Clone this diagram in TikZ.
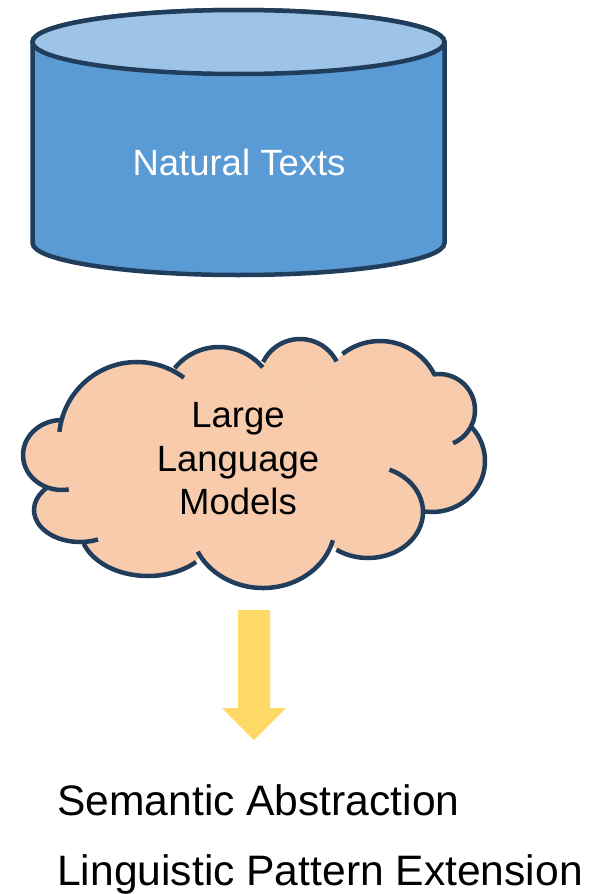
\documentclass[tikz,border=0pt]{standalone}
\usepackage{fontspec}
\setmainfont{Liberation Sans}
\usetikzlibrary{calc}
\definecolor{dbline}{RGB}{33,61,92}
\definecolor{dbtop}{RGB}{157,195,230}
\definecolor{dbbody}{RGB}{91,155,213}
\definecolor{cloudbody}{RGB}{248,203,173}
\definecolor{flowfill}{RGB}{255,217,102}
\tikzstyle{dbshape} = [draw=dbline, line width=4.5pt]
\tikzstyle{puff} = [draw=dbline, line width=4.5pt]
\tikzstyle{textlbl} = [inner sep=0pt, font=\fontsize{36.5}{43.5}\selectfont]
\tikzstyle{outcome} = [inner sep=0pt, anchor=base west, font=\fontsize{42.6}{50}\selectfont]
\newcommand{\puffarc}[6]{($(#1,#2)+(#5:#3 and #4)$) arc[start angle=#5, end angle=#6, x radius=#3, y radius=#4]}

\begin{document}
\begin{tikzpicture}[x=1pt, y=-1pt]
\useasboundingbox (0,0) rectangle (589,894);

% database
\filldraw[dbshape, fill=dbbody] (32.5,42) -- (32.5,243) arc[start angle=180, end angle=0, x radius=206, y radius=32] -- (444.5,42) arc[start angle=0, end angle=-180, x radius=206, y radius=32] -- cycle;
\filldraw[dbshape, fill=dbtop] (238.5,42) ellipse [x radius=206, y radius=32];
\node (texts) [textlbl, text=white, anchor=base] at (239,175) {Natural Texts};

% cloud
\fill[cloudbody] \puffarc{137}{440}{78}{78}{186}{307} -- (250,462) -- cycle;
\fill[cloudbody] \puffarc{219}{404}{57}{57}{219}{320} -- (250,462) -- cycle;
\fill[cloudbody] \puffarc{300}{380}{41}{41}{206}{333} -- (250,462) -- cycle;
\fill[cloudbody] \puffarc{380}{402}{61}{61}{232}{334} -- (250,462) -- cycle;
\fill[cloudbody] \puffarc{439}{410}{36}{36}{261}{427} -- (250,462) -- cycle;
\fill[cloudbody] \puffarc{432}{461}{53}{51}{318}{460} -- (250,462) -- cycle;
\fill[cloudbody] \puffarc{368}{512}{55}{46}{293}{485} -- (250,462) -- cycle;
\fill[cloudbody] \puffarc{263}{525}{72}{63}{14}{155} -- (250,462) -- cycle;
\fill[cloudbody] \puffarc{148}{528}{68}{48}{45}{161} -- (250,462) -- cycle;
\fill[cloudbody] \puffarc{80}{510}{46}{32}{67}{225} -- (250,462) -- cycle;
\fill[cloudbody] \puffarc{62}{455}{39}{35}{80}{270} -- (250,462) -- cycle;
\draw[puff] \puffarc{137}{440}{78}{78}{186}{307};
\draw[puff] \puffarc{219}{404}{57}{57}{219}{320};
\draw[puff] \puffarc{300}{380}{41}{41}{206}{333};
\draw[puff] \puffarc{380}{402}{61}{61}{232}{334};
\draw[puff] \puffarc{439}{410}{36}{36}{261}{427};
\draw[puff] \puffarc{432}{461}{53}{51}{318}{460};
\draw[puff] \puffarc{368}{512}{55}{46}{293}{485};
\draw[puff] \puffarc{263}{525}{72}{63}{14}{155};
\draw[puff] \puffarc{148}{528}{68}{48}{45}{161};
\draw[puff] \puffarc{80}{510}{46}{32}{67}{225};
\draw[puff] \puffarc{62}{455}{39}{35}{80}{270};
\node (llm) [textlbl, align=center] at (238,459) {Large\\Language\\Models};

% block arrow
\fill[flowfill] (238,610) -- (270,610) -- (270,708) -- (286,708) -- (254,740) -- (222,708) -- (238,708) -- cycle;

\node (abstraction) [outcome] at (57,815) {Semantic Abstraction};
\node (extension) [outcome] at (57,885) {Linguistic Pattern Extension};

\end{tikzpicture}
\end{document}
